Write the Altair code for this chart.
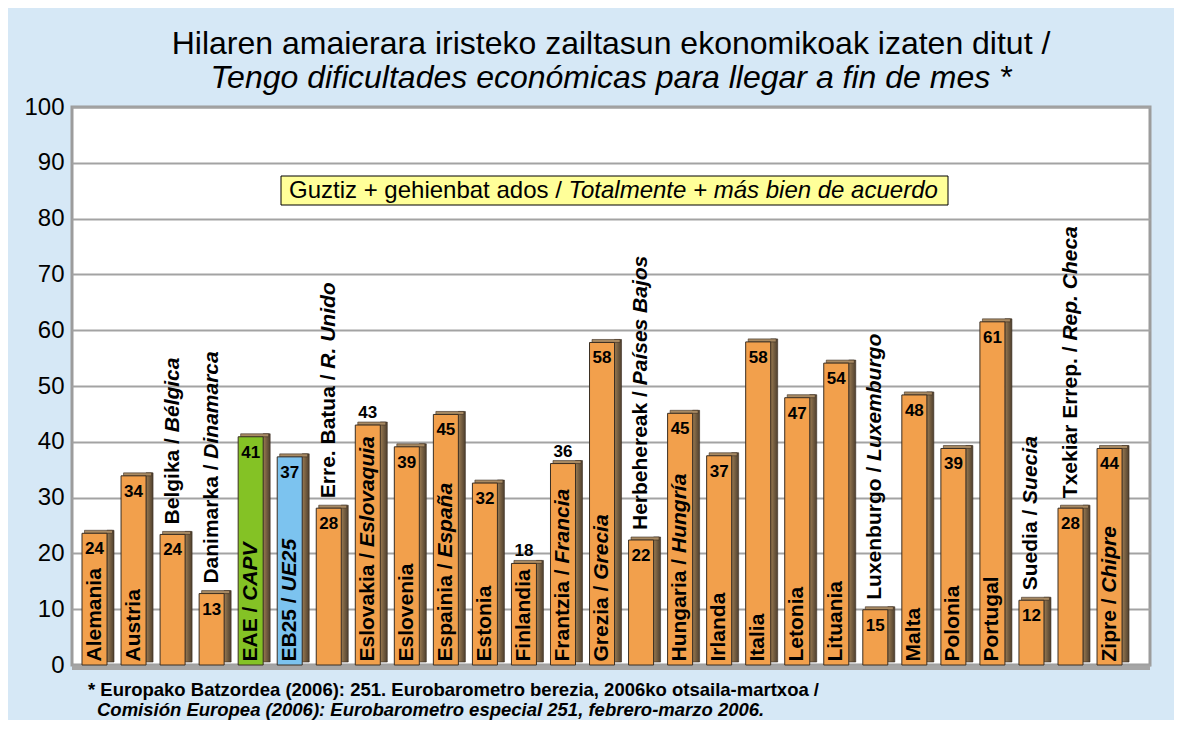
import altair as alt
import pandas as pd

# ---------------- data ----------------
names_eu = ["Alemania", "Austria", "Belgika", "Danimarka", "EAE", "EB25", "Erre. Batua",
            "Eslovakia", "Eslovenia", "Espainia", "Estonia", "Finlandia", "Frantzia",
            "Grezia", "Herbehereak", "Hungaria", "Irlanda", "Italia", "Letonia", "Lituania",
            "Luxenburgo", "Malta", "Polonia", "Portugal", "Suedia", "Txekiar Errep.", "Zipre"]
names_es = ["", "", "Bélgica", "Dinamarca", "CAPV", "UE25", "R. Unido",
            "Eslovaquia", "", "España", "", "", "Francia",
            "Grecia", "Países Bajos", "Hungría", "", "", "", "",
            "Luxemburgo", "", "", "", "Suecia", "Rep. Checa", "Chipre"]
bar_values = [23.6, 33.9, 23.4, 12.8, 40.9, 37.3, 28.1,
              43.0, 39.1, 44.9, 32.6, 18.2, 36.1,
              57.8, 22.4, 45.1, 37.5, 57.9, 47.9, 54.1,
              9.9, 48.4, 38.8, 61.5, 11.6, 28.1, 38.8]
value_labels = ["24", "34", "24", "13", "41", "37", "28",
                "43", "39", "45", "32", "18", "36",
                "58", "22", "45", "37", "58", "47", "54",
                "15", "48", "39", "61", "12", "28", "44"]
groups = ["country"] * 27
groups[4] = "EAE"
groups[5] = "EB25"

y_ticks = list(range(0, 101, 10))

title_line1 = "Hilaren amaierara iristeko zailtasun ekonomikoak izaten ditut /"
title_line2 = "Tengo dificultades económicas para llegar a fin de mes *"
note_eu = "Guztiz + gehienbat ados / "
note_es = "Totalmente + más bien de acuerdo"
foot1 = "* Europako Batzordea (2006): 251. Eurobarometro berezia, 2006ko otsaila-martxoa /"
foot2 = "Comisión Europea (2006): Eurobarometro especial 251, febrero-marzo 2006."

# ---------------- style ----------------
FONT = "Liberation Sans"
W, H = 1078, 558
PPU = H / 100.0
NAME_SIZE = 21
VAL_SIZE = 17
NOTE_SIZE = 24
FOOT_SIZE = 18.5

ORANGE = "#F2A04C"
GREEN = "#84C225"
BLUE = "#7CC3EF"
EDGE = "#3a2e22"
GRID = "#a3a3a3"
BG = "#d6e8f6"

# Arial-compatible advance widths (per 1000 em)
_bold = {" ": 278, "!": 333, "(": 333, ")": 333, "*": 389, "+": 584, ",": 278, "-": 333,
         ".": 278, "/": 278, ":": 333,
         "A": 722, "B": 722, "C": 722, "D": 722, "E": 667, "F": 611, "G": 778, "H": 722,
         "I": 278, "J": 556, "K": 722, "L": 611, "M": 833, "N": 722, "O": 778, "P": 667,
         "Q": 778, "R": 722, "S": 667, "T": 611, "U": 722, "V": 667, "W": 944, "X": 667,
         "Y": 667, "Z": 611,
         "a": 556, "b": 611, "c": 556, "d": 611, "e": 556, "f": 333, "g": 611, "h": 611,
         "i": 278, "j": 278, "k": 556, "l": 278, "m": 889, "n": 611, "o": 611, "p": 611,
         "q": 611, "r": 389, "s": 556, "t": 333, "u": 611, "v": 556, "w": 778, "x": 556,
         "y": 556, "z": 500, "á": 556, "é": 556, "í": 278, "ó": 611, "ñ": 611, "ú": 611}
_reg = {" ": 278, "(": 333, ")": 333, "*": 389, "+": 584, ",": 278, "-": 333, ".": 278,
        "/": 278, ":": 278,
        "A": 667, "B": 667, "C": 722, "D": 722, "E": 667, "F": 611, "G": 778, "H": 722,
        "I": 278, "J": 500, "K": 667, "L": 556, "M": 833, "N": 722, "O": 778, "P": 667,
        "Q": 778, "R": 722, "S": 667, "T": 611, "U": 722, "V": 667, "W": 944, "X": 667,
        "Y": 667, "Z": 611,
        "a": 556, "b": 556, "c": 500, "d": 556, "e": 556, "f": 278, "g": 556, "h": 556,
        "i": 222, "j": 222, "k": 500, "l": 222, "m": 833, "n": 556, "o": 556, "p": 556,
        "q": 556, "r": 333, "s": 500, "t": 278, "u": 556, "v": 500, "w": 722, "x": 500,
        "y": 500, "z": 500, "á": 556, "é": 556, "í": 278, "ó": 556, "ñ": 556, "ú": 556}


def text_w(s, size, bold=True):
    tab = _bold if bold else _reg
    return sum(tab.get(c, 556) for c in s) * size / 1000.0


rows = []
for eu, es, v, lab, g in zip(names_eu, names_es, bar_values, value_labels, groups):
    eu_txt = eu + (" / " if es else "")
    w_eu = text_w(eu_txt, NAME_SIZE)
    w_all = w_eu + text_w(es, NAME_SIZE)
    bar_px = v * PPU
    if w_all + 8.5 <= bar_px:
        start = 3.5 / PPU
        val_in = (w_all + 3.5 + 28) <= bar_px
    else:
        start = v + 10 / PPU
        val_in = True
    rows.append(dict(country=eu, eu_txt=eu_txt, es=es, value=v, label=lab, group=g,
                     start=start, es_start=start + w_eu / PPU, val_in=val_in))
df = pd.DataFrame(rows)

x_enc = alt.X("country:N", sort=names_eu,
              scale=alt.Scale(type="band", domain=names_eu, paddingInner=0,
                              paddingOuter=0.3065, align=0.125),
              axis=None)
y_scale = alt.Scale(domain=[0, 100], nice=False)
y_axis = alt.Axis(values=y_ticks, labelFontSize=24, labelFont=FONT, labelColor="black",
                  ticks=False, domain=False, grid=True, gridColor=GRID, gridWidth=2,
                  labelPadding=8, title=None)
color_enc = alt.Color("group:N", scale=alt.Scale(domain=["country", "EAE", "EB25"],
                                                 range=[ORANGE, GREEN, BLUE]), legend=None)

base = alt.Chart(df)

floor = alt.Chart(pd.DataFrame({"v": [0]})).mark_rule(
    color="#a6a6a6", strokeWidth=4, yOffset=3).encode(
    y=alt.Y("v:Q", scale=y_scale, axis=y_axis), x=alt.value(0), x2=alt.value(W))

side = base.mark_bar(width=7, xOffset=16, yOffset=-3, stroke=EDGE, strokeWidth=0.6,
                     color=alt.LinearGradient(gradient="linear",
                                              stops=[alt.GradientStop(color="#9a7b52", offset=0),
                                                     alt.GradientStop(color="#4e3f2e", offset=1)],
                                              x1=0, x2=1, y1=0, y2=0)).encode(
    x=x_enc, y=alt.Y("value:Q", scale=y_scale))

top = base.mark_bar(width=28, xOffset=4, yOffset=-3, fill="#a88a63", stroke=EDGE,
                    strokeWidth=0.6).encode(
    x=x_enc, y=alt.Y("value:Q", scale=y_scale), y2="value:Q")

front = base.mark_bar(width=25, stroke=EDGE, strokeWidth=1).encode(
    x=x_enc, y=alt.Y("value:Q", scale=y_scale), color=color_enc)

name_eu = base.mark_text(angle=270, align="left", baseline="middle", font=FONT,
                         fontSize=NAME_SIZE, fontWeight="bold", color="black").encode(
    x=x_enc, y=alt.Y("start:Q", scale=y_scale), text="eu_txt:N")

name_es = base.transform_filter("datum.es != ''").mark_text(
    angle=270, align="left", baseline="middle", font=FONT, fontSize=NAME_SIZE,
    fontWeight="bold", fontStyle="italic", color="black").encode(
    x=x_enc, y=alt.Y("es_start:Q", scale=y_scale), text="es:N")

val_in = base.transform_filter("datum.val_in").mark_text(
    baseline="top", dy=8, font=FONT, fontSize=VAL_SIZE, fontWeight="bold",
    color="black").encode(x=x_enc, y=alt.Y("value:Q", scale=y_scale), text="label:N")

val_out = base.transform_filter("!datum.val_in").mark_text(
    baseline="alphabetic", dy=-7, font=FONT, fontSize=VAL_SIZE, fontWeight="bold",
    color="black").encode(x=x_enc, y=alt.Y("value:Q", scale=y_scale), text="label:N")

one = pd.DataFrame({"a": [0]})
note_w = text_w(note_eu, NOTE_SIZE, bold=False) + text_w(note_es, NOTE_SIZE, bold=False)
box_l, box_r = 209, 876
note_x0 = (box_l + box_r) / 2 - note_w / 2
note_box = alt.Chart(one).mark_rect(fill="#ffff99", stroke="black", strokeWidth=1).encode(
    x=alt.value(box_l), x2=alt.value(box_r), y=alt.value(69), y2=alt.value(98))
note_t1 = alt.Chart(one).mark_text(align="left", baseline="middle", font=FONT,
                                   fontSize=NOTE_SIZE, color="black", text=note_eu).encode(
    x=alt.value(note_x0), y=alt.value(84))
note_t2 = alt.Chart(one).mark_text(align="left", baseline="middle", font=FONT,
                                   fontSize=NOTE_SIZE, fontStyle="italic", color="black",
                                   text=note_es).encode(
    x=alt.value(note_x0 + text_w(note_eu, NOTE_SIZE, bold=False)), y=alt.value(84))

foot_t1 = alt.Chart(one).mark_text(align="left", baseline="alphabetic", font=FONT,
                                   fontSize=FOOT_SIZE, fontWeight="bold", color="black",
                                   text=foot1).encode(x=alt.value(16), y=alt.value(589))
foot_t2 = alt.Chart(one).mark_text(align="left", baseline="alphabetic", font=FONT,
                                   fontSize=FOOT_SIZE, fontWeight="bold", fontStyle="italic",
                                   color="black", text=foot2).encode(
    x=alt.value(25), y=alt.value(609))

chart = alt.layer(floor, side, top, front, name_eu, name_es, val_in, val_out,
                  note_box, note_t1, note_t2, foot_t1, foot_t2).properties(
    width=W, height=H,
    padding={"left": 64, "top": 99, "right": 24, "bottom": 55},
    autosize=alt.AutoSizeParams(type="none"),
    title=alt.TitleParams(text=title_line1, subtitle=title_line2, font=FONT,
                          subtitleFont=FONT, fontSize=32, subtitleFontSize=32,
                          fontWeight="normal", subtitleFontStyle="italic",
                          color="black", subtitleColor="black", anchor="middle",
                          offset=0, subtitlePadding=2),
    background=BG,
).configure_view(stroke="#9c9c9c", strokeWidth=3, fill="white")

chart.save("out.html", embed_options={"renderer": "svg", "actions": False})
